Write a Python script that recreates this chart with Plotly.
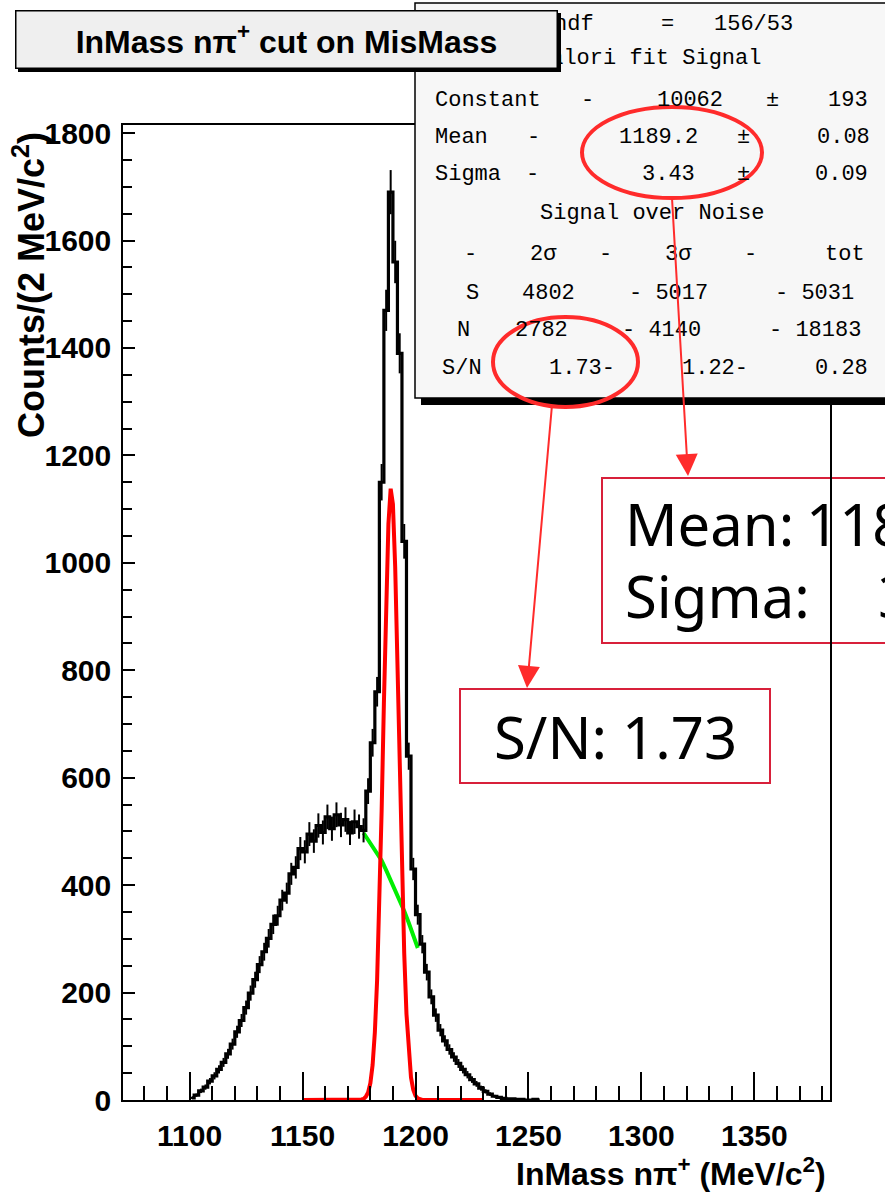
import numpy as np
import plotly.graph_objects as go

# ---- data -------------------------------------------------------------
# invariant mass n pi+ histogram, 2 MeV/c^2 bins (bin centres)
bin_centers = list(range(1101, 1256, 2))
counts = [
    4, 9, 17, 24, 35, 45, 57, 70, 86, 104,
    127, 148, 172, 199, 224, 252, 276, 301, 327, 343,
    372, 385, 421, 433, 468, 462, 495, 482, 511, 498,
    527, 505, 531, 512, 522, 497, 518, 509, 502, 575,
    665, 760, 1150, 1470, 1690, 1560, 1390, 1040, 640, 430,
    345, 290, 238, 192, 158, 130, 110, 94, 80, 68,
    57, 47, 38, 30, 22, 16, 11, 7, 5, 3,
    2, 2, 1, 1, 0, 0, 1, 0,
]

# gaussian signal fit, drawn 1150 - 1230
signal_x = [1150, 1175, 1176, 1177, 1178, 1179, 1180, 1181, 1182, 1183, 1184,
            1185, 1186, 1187, 1188, 1189, 1190, 1191, 1192, 1193, 1194,
            1195, 1196, 1197, 1198, 1199, 1200, 1201, 1202, 1203, 1230]
signal_y = [0, 0, 1, 2, 6, 14, 31, 65, 126, 223, 361,
            538, 738, 928, 1072, 1138, 1109, 993, 817, 617, 428,
            273, 160, 86, 42, 19, 8, 3, 1, 0, 0]

# background fit under the peak
bkg_x = [1177, 1179, 1181, 1183, 1185, 1187, 1189, 1191, 1193, 1195, 1197, 1199, 1201]
bkg_y = [497, 485, 472, 460, 446, 428, 410, 392, 373, 352, 330, 307, 283]

# ---- canvas geometry (pixels) ------------------------------------------
W, H = 885, 1198
L, R, T, B = 123, 830, 125, 1100


def px(x):
    return (x - L) / (R - L)


def py(y):
    return (B - y) / (B - T)


fig = go.Figure()

fig.add_trace(go.Scatter(
    x=bkg_x, y=bkg_y, mode="lines",
    line=dict(color="#00ee00", width=4), hoverinfo="skip", showlegend=False))

fig.add_trace(go.Scatter(
    x=bin_centers, y=counts, mode="lines",
    line=dict(color="black", width=3.2, shape="hvh"),
    error_y=dict(type="data", array=np.sqrt(counts), color="black",
                 thickness=2, width=0),
    showlegend=False))

fig.add_trace(go.Scatter(
    x=signal_x, y=signal_y, mode="lines",
    line=dict(color="#ff0000", width=4), hoverinfo="skip", showlegend=False))

bold = dict(family="Liberation Sans", color="black", weight="bold")

fig.update_xaxes(
    range=[1070.5, 1383.5], tick0=1100, dtick=50,
    ticks="inside", ticklen=28, tickwidth=1.5, tickcolor="black",
    minor=dict(dtick=10, ticks="inside", ticklen=14, tickwidth=1.5, tickcolor="black"),
    showline=True, mirror=True, linecolor="black", linewidth=1.5,
    showgrid=False, zeroline=False,
    tickfont=dict(size=30, **bold), ticklabelstandoff=8)

fig.update_yaxes(
    range=[0, 1815], tick0=0, dtick=200,
    ticks="inside", ticklen=12, tickwidth=1.5, tickcolor="black",
    minor=dict(dtick=50, ticks="inside", ticklen=9, tickwidth=1.5, tickcolor="black"),
    showline=True, mirror=True, linecolor="black", linewidth=1.5,
    showgrid=False, zeroline=False,
    tickfont=dict(size=30, **bold), ticklabelstandoff=4)

shapes = []
ann = []

# statistics box (fit results) with drop shadow
shapes.append(dict(type="rect", xref="paper", yref="paper", layer="above",
                   x0=px(421), x1=px(900), y0=py(405), y1=py(9),
                   fillcolor="black", line=dict(width=0)))
shapes.append(dict(type="rect", xref="paper", yref="paper", layer="above",
                   x0=px(415), x1=px(900), y0=py(398), y1=py(3),
                   fillcolor="#f7f7f7", line=dict(color="black", width=1.5)))

mono = dict(family="Liberation Mono", size=22, color="black")


def txt(s, x, y, anchor="left", font=mono):
    ann.append(dict(text=s, xref="paper", yref="paper", x=px(x), y=py(y),
                    xanchor=anchor, yanchor="middle", showarrow=False, font=font))


stats_rows = [
    (25, [("Chi2/ndf", 596, "right"), ("=", 667, "center"), ("156/53", 712, "left")]),
    (59, [("Valori fit Signal", 763, "right")]),
    (100, [("Constant", 433, "left"), ("-", 587, "center"), ("10062", 725, "right"),
           ("±", 772, "center"), ("193", 870, "right")]),
    (137, [("Mean", 433, "left"), ("-", 533, "center"), ("1189.2", 700, "right"),
           ("±", 743, "center"), ("0.08", 872, "right")]),
    (174, [("Sigma", 433, "left"), ("-", 532, "center"), ("3.43", 697, "right"),
           ("±", 743, "center"), ("0.09", 870, "right")]),
    (213, [("Signal over Noise", 652, "center")]),
    (254, [("-", 470, "center"), ("2σ", 543, "center"), ("-", 605, "center"),
           ("3σ", 678, "center"), ("-", 750, "center"), ("tot", 845, "center")]),
    (293, [("S", 472, "center"), ("4802", 520, "left"), ("- 5017", 627, "left"),
           ("- 5031", 773, "left")]),
    (330, [("N", 463, "center"), ("2782", 513, "left"), ("- 4140", 620, "left"),
           ("- 18183", 767, "left")]),
    (368, [("S/N", 440, "left"), ("1.73-", 547, "left"), ("1.22-", 680, "left"),
           ("0.28", 813, "left")]),
]
for y, cells in stats_rows:
    for s, x, a in cells:
        txt(s, x, y, a)

# title pave with shadow (drawn over the statistics box)
for dx, fill, border in [(3, "black", "black"), (0, "#efefef", "black")]:
    ann.append(dict(
        text="InMass nπ<sup>+</sup> cut on MisMass" if dx == 0 else " ",
        xref="paper", yref="paper", x=px(15 + dx), y=py(10 + dx),
        xanchor="left", yanchor="top", showarrow=False,
        width=540, height=56, borderpad=0, borderwidth=1.5,
        bgcolor=fill, bordercolor=border, align="center", valign="middle",
        font=dict(size=32, **bold)))

# axis titles
ann.append(dict(text="InMass nπ<sup>+</sup> (MeV/c<sup>2</sup>)", xref="paper", yref="paper",
                x=px(828), y=py(1172), xanchor="right", yanchor="middle",
                showarrow=False, font=dict(size=32, **bold)))
ann.append(dict(text="Counts/(2 MeV/c<sup>2</sup>)", xref="paper", yref="paper",
                x=px(29), y=py(285), xanchor="center", yanchor="middle", textangle=-90,
                showarrow=False, font=dict(size=36, **bold)))

# highlighted fit values
red = "#ff2b2b"
shapes.append(dict(type="circle", xref="paper", yref="paper", layer="above",
                   x0=px(582), x1=px(762), y0=py(198), y1=py(107),
                   line=dict(color=red, width=4)))
shapes.append(dict(type="circle", xref="paper", yref="paper", layer="above",
                   x0=px(493), x1=px(638), y0=py(407), y1=py(317),
                   line=dict(color=red, width=4)))

# callout boxes
crimson = "#d8203a"
shapes.append(dict(type="rect", xref="paper", yref="paper", layer="below",
                   x0=px(602), x1=px(905), y0=py(643), y1=py(478),
                   fillcolor="white", line=dict(color=crimson, width=2)))
shapes.append(dict(type="rect", xref="paper", yref="paper", layer="below",
                   x0=px(460), x1=px(770), y0=py(783), y1=py(689),
                   fillcolor="white", line=dict(color=crimson, width=2)))

hand = dict(family="Noto Sans", size=58, color="black")
txt("Mean:", 623, 523, "left", hand)
txt("1189.2", 804, 523, "left", hand)
txt("Sigma:", 623, 595, "left", hand)
txt("3.43", 876, 595, "left", hand)
txt("S/N: 1.73", 615, 736, "center", hand)

# arrows from the circled values to the callouts
for tip, tail in [((688, 476), (672, 198)), ((527, 688), (552, 405))]:
    ann.append(dict(text="", xref="paper", yref="paper", x=px(tip[0]), y=py(tip[1]),
                    ax=tail[0] - tip[0], ay=tail[1] - tip[1], axref="pixel", ayref="pixel",
                    showarrow=True, arrowhead=2, arrowsize=2.2, arrowwidth=2,
                    arrowcolor=red, standoff=0))

fig.update_layout(
    width=W, height=H,
    margin=dict(l=L, r=W - R, t=T, b=H - B, pad=0),
    paper_bgcolor="white", plot_bgcolor="white",
    shapes=shapes, annotations=ann, showlegend=False)

fig.write_html("out.html")
